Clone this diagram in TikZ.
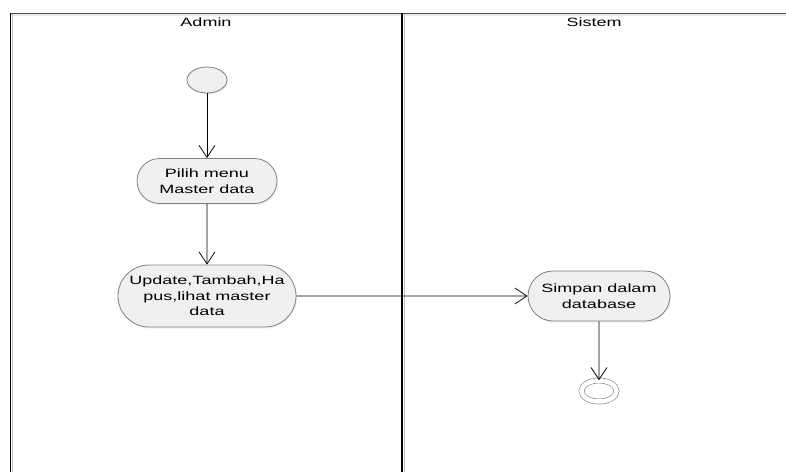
\documentclass[tikz,border=0pt]{standalone}
\usepackage{fontspec}
\setmainfont{Liberation Sans}[FakeStretch=1.5]
\usetikzlibrary{arrows.meta,shapes.geometric,shapes.misc,shadows}
\begin{document}
\begin{tikzpicture}[x=1pt,y=-1pt,>={Straight Barb[length=12pt,width=16pt]},line width=0.8pt,
  txt/.style={font=\fontsize{12}{15.5}\selectfont,align=center},
  act/.style={txt,draw=black!50,fill=black!6,inner sep=0pt,
    drop shadow={opacity=0.12,shadow xshift=1pt,shadow yshift=-1.5pt}},
  actbox/.style={act,rounded rectangle},
  startnode/.style={act,ellipse,minimum width=40pt,minimum height=26pt},
  endnode/.style={act,ellipse,fill=white,double=white,double distance=4.5pt,line width=0.6pt,
    minimum width=35pt,minimum height=21pt}]
\useasboundingbox (0,0) rectangle (786,472);

\fill[black!8] (10,13) rectangle (786,16);
\draw[black!70] (10,13) -- (786,13);
\draw[black!25,line width=1pt] (12.5,14) -- (12.5,472);
\draw[line width=1.2pt] (10.5,13) -- (10.5,472);
\draw[black!25,line width=1pt] (404,14) -- (404,472);
\draw[line width=1.2pt] (402,13) -- (402,472);

\node[txt] (admin) at (206,22) {Admin};
\node[txt] (sistem) at (594,22) {Sistem};

\node[startnode] (a) at (207,80) {};
\node[actbox,minimum width=140pt,minimum height=45pt] (b) at (207,181) {Pilih menu\\Master data};
\node[actbox,minimum width=178pt,minimum height=62pt] (c) at (207,296) {Update,Tambah,Ha\\pus,lihat master\\data};
\node[actbox,minimum width=142pt,minimum height=50pt] (d) at (599,296) {Simpan dalam\\database};
\node[endnode] (e) at (599,391) {};

\draw[->] (a) -- (b);
\draw[->] (b) -- (c);
\draw[->] (c) -- (d);
\draw[->] (d) -- (e);
\end{tikzpicture}
\end{document}
